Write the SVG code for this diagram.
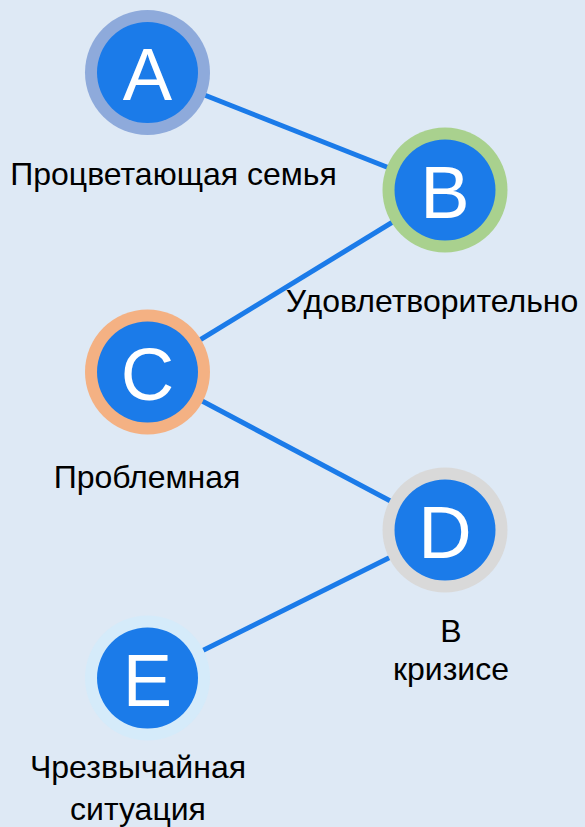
<svg xmlns="http://www.w3.org/2000/svg" width="585" height="827" viewBox="0 0 585 827">
<style>
.edge{stroke:#1b7be9;stroke-width:5;fill:none}
.inner{fill:#1b7be9}
.letter{font-family:"Liberation Sans",Arial,sans-serif;font-size:74px;fill:#ffffff;text-anchor:middle}
.label{font-family:"Liberation Sans",Arial,sans-serif;font-size:32px;fill:#000000;text-anchor:middle}
</style>
<rect width="585" height="827" fill="#dee9f5"/>
<g id="connectors">
<line class="edge" x1="147.5" y1="72.5" x2="445" y2="190"/>
<line class="edge" x1="445" y1="190" x2="147.5" y2="372"/>
<line class="edge" x1="147.5" y1="372" x2="445" y2="530"/>
<line class="edge" x1="445" y1="530" x2="147.5" y2="678"/>
</g>
<g id="node-A">
<circle cx="147.5" cy="72.5" r="62.5" fill="#8eaadb"/>
<circle class="inner" cx="147.5" cy="72.5" r="50.5"/>
<text class="letter" x="147.5" y="100">A</text>
<text class="label" x="173.5" y="185">Процветающая семья</text>
</g>
<g id="node-B">
<circle cx="445" cy="190" r="62.5" fill="#a9d18e"/>
<circle class="inner" cx="445" cy="190" r="50.5"/>
<text class="letter" x="445" y="217.5">B</text>
<text class="label" x="432" y="312">Удовлетворительно</text>
</g>
<g id="node-C">
<circle cx="147.5" cy="372" r="62.5" fill="#f4b183"/>
<circle class="inner" cx="147.5" cy="372" r="50.5"/>
<text class="letter" x="147.5" y="399.5">C</text>
<text class="label" x="147" y="488">Проблемная</text>
</g>
<g id="node-D">
<circle cx="445" cy="530" r="62.5" fill="#d9d9d9"/>
<circle class="inner" cx="445" cy="530" r="50.5"/>
<text class="letter" x="445" y="557.5">D</text>
<text class="label" x="451" y="642">В</text>
<text class="label" x="451" y="680">кризисе</text>
</g>
<g id="node-E">
<circle cx="147.5" cy="678" r="62.5" fill="#d5ebfa"/>
<circle class="inner" cx="147.5" cy="678" r="50.5"/>
<text class="letter" x="147.5" y="705.5">E</text>
<text class="label" x="138" y="778">Чрезвычайная</text>
<text class="label" x="138" y="820">ситуация</text>
</g>
</svg>
